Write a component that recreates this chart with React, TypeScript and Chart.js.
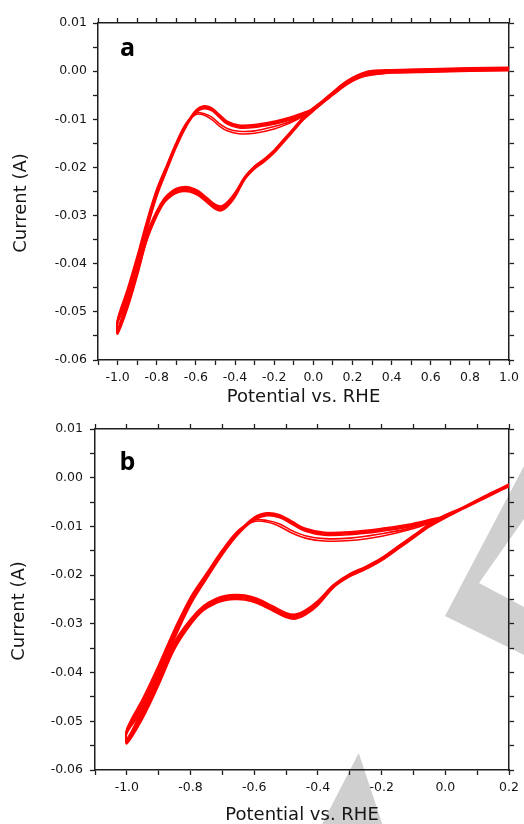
import React, { useEffect, useRef } from 'react';
import { Chart, registerables } from 'chart.js';

Chart.register(...registerables);

// ---------- data ----------
const potentialCathodic = [1.0, 0.8, 0.6, 0.4, 0.3, 0.25, 0.2, 0.15, 0.1, 0.05, 0.0, -0.05, -0.1, -0.15, -0.2, -0.25, -0.3, -0.35, -0.4, -0.44, -0.47, -0.5, -0.54, -0.59, -0.63, -0.66, -0.69, -0.72, -0.76, -0.8, -0.85, -0.9, -0.95, -1.0];
const potentialAnodic = [-1.0, -0.95, -0.9, -0.85, -0.8, -0.75, -0.7, -0.65, -0.6, -0.56, -0.52, -0.48, -0.44, -0.38, -0.3, -0.2, -0.12, -0.05, 0.0, 0.05, 0.1, 0.15, 0.2, 0.25, 0.3, 0.4, 0.6, 0.8, 1.0];

const cathodicCycle1 = [0.0007, 0.0006, 0.0004, 0.0002, -0.0002, -0.0006, -0.0015, -0.0028, -0.0044, -0.0060, -0.0077, -0.0095, -0.0118, -0.0141, -0.0164, -0.0182, -0.0197, -0.0219, -0.0252, -0.0272, -0.0280, -0.0277, -0.0264, -0.0248, -0.0241, -0.0240, -0.0242, -0.0248, -0.0263, -0.0290, -0.0336, -0.0406, -0.0474, -0.0536];
const cathodicCycle2 = [0.0006, 0.0005, 0.0003, 0.0001, -0.0003, -0.0007, -0.0016, -0.0029, -0.0045, -0.0061, -0.0078, -0.0096, -0.0119, -0.0142, -0.0165, -0.0183, -0.0198, -0.0220, -0.0254, -0.0274, -0.0282, -0.0279, -0.0266, -0.0250, -0.0243, -0.0242, -0.0244, -0.0250, -0.0265, -0.0292, -0.0339, -0.0410, -0.0478, -0.0538];
const cathodicCycle3 = [0.0005, 0.0004, 0.0002, 0.0000, -0.0004, -0.0008, -0.0017, -0.0030, -0.0046, -0.0062, -0.0079, -0.0097, -0.0120, -0.0143, -0.0166, -0.0184, -0.0199, -0.0221, -0.0256, -0.0276, -0.0284, -0.0281, -0.0268, -0.0252, -0.0245, -0.0244, -0.0246, -0.0252, -0.0267, -0.0295, -0.0342, -0.0414, -0.0482, -0.0540];
const cathodicCycle4 = [0.0003, 0.0002, 0.0000, -0.0002, -0.0006, -0.0010, -0.0019, -0.0032, -0.0048, -0.0064, -0.0081, -0.0099, -0.0122, -0.0145, -0.0168, -0.0186, -0.0201, -0.0223, -0.0258, -0.0278, -0.0286, -0.0283, -0.0270, -0.0254, -0.0247, -0.0246, -0.0248, -0.0254, -0.0269, -0.0297, -0.0346, -0.0418, -0.0486, -0.0542];
const cathodicCycle5 = [0.0002, 0.0001, -0.0001, -0.0003, -0.0007, -0.0011, -0.0020, -0.0033, -0.0049, -0.0065, -0.0082, -0.0100, -0.0123, -0.0146, -0.0169, -0.0187, -0.0202, -0.0224, -0.0260, -0.0280, -0.0288, -0.0285, -0.0272, -0.0256, -0.0249, -0.0248, -0.0250, -0.0256, -0.0271, -0.0300, -0.0349, -0.0422, -0.0490, -0.0544];
const cathodicCycle6 = [0.0001, 0.0000, -0.0002, -0.0004, -0.0008, -0.0012, -0.0021, -0.0034, -0.0050, -0.0066, -0.0083, -0.0101, -0.0124, -0.0147, -0.0170, -0.0188, -0.0203, -0.0225, -0.0262, -0.0282, -0.0290, -0.0287, -0.0274, -0.0258, -0.0251, -0.0250, -0.0252, -0.0258, -0.0273, -0.0302, -0.0352, -0.0426, -0.0494, -0.0546];

const anodicCycle1 = [-0.0515, -0.0453, -0.0384, -0.0310, -0.0245, -0.0196, -0.0148, -0.0108, -0.0090, -0.0091, -0.0100, -0.0114, -0.0124, -0.0130, -0.0129, -0.0120, -0.0108, -0.0093, -0.0076, -0.0060, -0.0043, -0.0026, -0.0013, -0.0004, 0.0001, 0.0003, 0.0005, 0.0007, 0.0008];
const anodicCycle2 = [-0.0517, -0.0458, -0.0389, -0.0314, -0.0248, -0.0198, -0.0150, -0.0110, -0.0087, -0.0088, -0.0095, -0.0109, -0.0119, -0.0125, -0.0124, -0.0115, -0.0105, -0.0091, -0.0077, -0.0061, -0.0044, -0.0027, -0.0014, -0.0005, 0.0000, 0.0002, 0.0004, 0.0006, 0.0007];
const anodicCycle3 = [-0.0519, -0.0463, -0.0394, -0.0318, -0.0251, -0.0201, -0.0152, -0.0111, -0.0081, -0.0072, -0.0076, -0.0090, -0.0104, -0.0112, -0.0111, -0.0104, -0.0096, -0.0086, -0.0078, -0.0062, -0.0045, -0.0028, -0.0015, -0.0006, -0.0001, 0.0001, 0.0003, 0.0005, 0.0006];
const anodicCycle4 = [-0.0521, -0.0467, -0.0398, -0.0322, -0.0255, -0.0203, -0.0154, -0.0113, -0.0083, -0.0074, -0.0078, -0.0092, -0.0106, -0.0114, -0.0113, -0.0106, -0.0098, -0.0088, -0.0080, -0.0064, -0.0047, -0.0030, -0.0017, -0.0008, -0.0003, -0.0001, 0.0001, 0.0003, 0.0004];
const anodicCycle5 = [-0.0523, -0.0472, -0.0403, -0.0326, -0.0258, -0.0206, -0.0156, -0.0114, -0.0085, -0.0076, -0.0080, -0.0094, -0.0108, -0.0116, -0.0115, -0.0108, -0.0100, -0.0090, -0.0081, -0.0065, -0.0048, -0.0031, -0.0018, -0.0009, -0.0004, -0.0002, 0.0000, 0.0002, 0.0003];
const anodicCycle6 = [-0.0525, -0.0477, -0.0408, -0.0330, -0.0261, -0.0208, -0.0158, -0.0116, -0.0087, -0.0078, -0.0082, -0.0096, -0.0110, -0.0118, -0.0117, -0.0110, -0.0102, -0.0092, -0.0082, -0.0066, -0.0049, -0.0032, -0.0019, -0.0010, -0.0005, -0.0003, -0.0001, 0.0001, 0.0002];

// panel b: sweep reversed at 0.2 V
const potentialTailCathodicB = [0.2, 0.15, 0.1, 0.05];
const potentialTailAnodicB = [0.05, 0.1, 0.15, 0.2];
const tailCathodicB = [
  [-0.0013, -0.0030, -0.0046, -0.0062],
  [-0.0014, -0.0031, -0.0047, -0.0063],
  [-0.0015, -0.0031, -0.0047, -0.0063],
  [-0.0016, -0.0032, -0.0048, -0.0064],
  [-0.0017, -0.0033, -0.0049, -0.0065],
  [-0.0018, -0.0034, -0.0050, -0.0066],
];
const tailAnodicB = [
  [-0.0062, -0.0045, -0.0029, -0.0013],
  [-0.0063, -0.0046, -0.0030, -0.0014],
  [-0.0063, -0.0047, -0.0031, -0.0015],
  [-0.0064, -0.0048, -0.0032, -0.0016],
  [-0.0065, -0.0049, -0.0033, -0.0017],
  [-0.0066, -0.0050, -0.0034, -0.0018],
];

const cathodicCycles = [cathodicCycle1, cathodicCycle2, cathodicCycle3, cathodicCycle4, cathodicCycle5, cathodicCycle6];
const anodicCycles = [anodicCycle1, anodicCycle2, anodicCycle3, anodicCycle4, anodicCycle5, anodicCycle6];

const xTitle = 'Potential vs. RHE';
const yTitle = 'Current (A)';
const panelLetters = ['a', 'b'];
const xMinAll = -1.1;
const xMaxA = 1.0;
const xMaxB = 0.2;
const yMin = -0.06;
const yMax = 0.01;
const xStep = 0.1;
const yStep = 0.005;

// light-grey watermark fragments visible in panel b (canvas pixels)
const watermarkShapes = [
  [[445, 204], [524, 54], [524, 107], [479, 171], [524, 195], [524, 243]],
  [[358.7, 341], [318, 420], [385, 420]],
];

// ---------- helpers ----------
type Pt = { x: number; y: number };

function cycleA(k: number): Pt[] {
  const c = potentialCathodic.map((x, i) => ({ x, y: cathodicCycles[k][i] }));
  const a = potentialAnodic.map((x, i) => ({ x, y: anodicCycles[k][i] }));
  return [...c, ...a];
}

function cycleB(k: number): Pt[] {
  const i0c = potentialCathodic.indexOf(0.0);
  const i0a = potentialAnodic.indexOf(0.0);
  const tc = potentialTailCathodicB.map((x, i) => ({ x, y: tailCathodicB[k][i] }));
  const c = potentialCathodic.slice(i0c).map((x, i) => ({ x, y: cathodicCycles[k][i0c + i] }));
  const a = potentialAnodic.slice(0, i0a + 1).map((x, i) => ({ x, y: anodicCycles[k][i] }));
  const ta = potentialTailAnodicB.map((x, i) => ({ x, y: tailAnodicB[k][i] }));
  return [...tc, ...c, ...a, ...ta];
}

const FONT = 'DejaVu Sans';
const INK = '#151515';
const AXIS = '#1e1e1e';

type Geo = {
  h: number; top: number;
  left: number; right: number; topH: number; bottomH: number;
  yPad: number; xPad: number; titlePad: number;
  yTitleX: number; yTitleY: number;
  letterX: number; letterY: number;
  watermark: boolean;
};

const geoA: Geo = { h: 412, top: 0, left: 98, right: 11, topH: 23, bottomH: 52, yPad: 6, xPad: 5, titlePad: 4, yTitleX: 21.5, yTitleY: 203, letterX: 120, letterY: 55.5, watermark: false };
const geoB: Geo = { h: 420, top: 412, left: 95, right: 10, topH: 17, bottomH: 62, yPad: 7, xPad: 5, titlePad: 6, yTitleX: 19, yTitleY: 199, letterX: 119.5, letterY: 57.5, watermark: true };

function makeConfig(sweeps: Pt[][], xMax: number, geo: Geo, letter: string): any {
  const gridCommon = { drawOnChartArea: false, drawTicks: true, tickLength: 5, tickColor: AXIS, tickWidth: 1.3 };
  const borderCommon = { color: AXIS, width: 1.5 };
  const xLabel = (v: any) => {
    const n = Math.round(Number(v) * 10);
    return n % 2 === 0 && n >= -10 ? (n / 10).toFixed(1) : '';
  };
  const yLabel = (v: any) => {
    const n = Math.round(Number(v) * 1000);
    return n % 10 === 0 ? (n / 1000).toFixed(2) : '';
  };
  const annot = {
    id: 'annot',
    beforeDraw(chart: any) {
      if (!geo.watermark) return;
      const ctx = chart.ctx;
      ctx.save();
      ctx.fillStyle = '#cfcfcf';
      for (const shape of watermarkShapes) {
        ctx.beginPath();
        shape.forEach(([px, py], i) => (i === 0 ? ctx.moveTo(px, py) : ctx.lineTo(px, py)));
        ctx.closePath();
        ctx.fill();
      }
      ctx.restore();
    },
    afterDraw(chart: any) {
      const ctx = chart.ctx;
      ctx.save();
      ctx.fillStyle = INK;
      ctx.font = `18px "${FONT}"`;
      ctx.textAlign = 'center';
      ctx.textBaseline = 'middle';
      ctx.translate(geo.yTitleX, geo.yTitleY);
      ctx.rotate(-Math.PI / 2);
      ctx.fillText(yTitle, 0, 0);
      ctx.restore();
      ctx.save();
      ctx.fillStyle = '#000';
      ctx.font = 'bold 25px "Open Sans"';
      ctx.textAlign = 'left';
      ctx.textBaseline = 'alphabetic';
      ctx.fillText(letter, geo.letterX, geo.letterY);
      ctx.restore();
    },
  };
  return {
    type: 'scatter',
    data: {
      datasets: sweeps.map((pts) => ({
        data: pts,
        showLine: true,
        borderColor: '#ff0000',
        backgroundColor: '#ff0000',
        borderWidth: 1.6,
        pointRadius: 0,
        tension: 0.35,
        fill: false,
      })),
    },
    options: {
      animation: false,
      responsive: false,
      events: [],
      layout: { padding: 0 },
      plugins: { legend: { display: false }, tooltip: { enabled: false } },
      scales: {
        x: {
          type: 'linear', position: 'bottom', min: xMinAll, max: xMax,
          afterFit: (s: any) => { s.height = geo.bottomH; },
          ticks: { stepSize: xStep, autoSkip: false, maxRotation: 0, minRotation: 0, padding: geo.xPad, color: INK, font: { family: FONT, size: 12.5 }, callback: xLabel },
          grid: gridCommon, border: borderCommon,
          title: { display: true, text: xTitle, color: INK, font: { family: FONT, size: 18 }, padding: { top: 0, bottom: geo.titlePad } },
        },
        x2: {
          type: 'linear', position: 'top', min: xMinAll, max: xMax,
          afterFit: (s: any) => { s.height = geo.topH; },
          ticks: { display: false, stepSize: xStep, autoSkip: false },
          grid: gridCommon, border: borderCommon,
        },
        y: {
          type: 'linear', position: 'left', min: yMin, max: yMax,
          afterFit: (s: any) => { s.width = geo.left; },
          ticks: { stepSize: yStep, autoSkip: false, padding: geo.yPad, color: INK, font: { family: FONT, size: 12.5 }, callback: yLabel },
          grid: gridCommon, border: borderCommon,
        },
        y2: {
          type: 'linear', position: 'right', min: yMin, max: yMax,
          afterFit: (s: any) => { s.width = geo.right; },
          ticks: { display: false, stepSize: yStep, autoSkip: false },
          grid: gridCommon, border: borderCommon,
        },
      },
    },
    plugins: [annot],
  };
}

function Panel({ sweeps, xMax, geo, letter }: { sweeps: Pt[][]; xMax: number; geo: Geo; letter: string }) {
  const ref = useRef<HTMLCanvasElement>(null);
  useEffect(() => {
    const chart = new Chart(ref.current as HTMLCanvasElement, makeConfig(sweeps, xMax, geo, letter));
    return () => chart.destroy();
  }, []);
  return (
    <canvas
      ref={ref}
      width={524}
      height={geo.h}
      style={{ position: 'absolute', left: 0, top: geo.top, width: 524, height: geo.h }}
    />
  );
}

export default function App() {
  const sweepsA = cathodicCycles.map((_, k) => cycleA(k));
  const sweepsB = cathodicCycles.map((_, k) => cycleB(k));
  return (
    <div style={{ position: 'absolute', left: 0, top: 0, width: 524, height: 824, overflow: 'hidden', background: '#fff' }}>
      <Panel sweeps={sweepsA} xMax={xMaxA} geo={geoA} letter={panelLetters[0]} />
      <Panel sweeps={sweepsB} xMax={xMaxB} geo={geoB} letter={panelLetters[1]} />
    </div>
  );
}
